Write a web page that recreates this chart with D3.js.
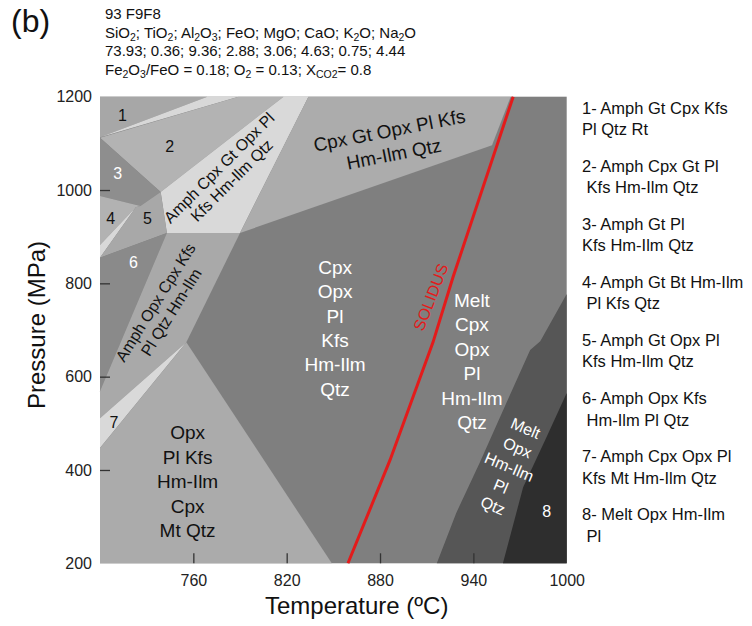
<!DOCTYPE html>
<meta charset="utf-8">
<head>
  <style>
    body {
      margin: 0;
      background: #fff;
    }
    svg {
      font-family: "Liberation Sans", Arial, sans-serif;
    }
    .axis text {
      font-size: 16px;
      fill: #222;
    }
    .axis line {
      stroke: #333;
      stroke-width: 1.3px;
    }
    .legend text {
      font-size: 16.5px;
      fill: #111;
      white-space: pre;
    }
  </style>
</head>
<body>
  <script src="https://d3js.org/d3.v7.min.js"></script>
  <script>
    // axis values
    const xLabelVals = [760, 820, 880, 940, 1000];
    const xTickVals = [760, 820, 880, 940];
    const yLabelVals = [200, 400, 600, 800, 1000, 1200];
    const yTickVals = [400, 600, 800, 1000];

    // phase field outlines, [T (ºC), P (MPa)]
    const field1 = [[700, 1200], [769, 1200], [700, 1113]];
    const sliver12 = [[700, 1113], [769, 1200], [789, 1200]];
    const field2 = [[700, 1112], [789, 1200], [818, 1200], [739, 996]];
    const fieldAmphCpxGt = [[818, 1200], [834, 1200], [790, 908], [743, 908], [739, 996]];
    const fieldCpxGt = [[834, 1200], [964, 1200], [952, 1096], [790, 908]];
    const field3 = [[700, 1112], [739, 996], [726, 966], [700, 987]];
    const field4 = [[700, 987], [726, 966], [723, 963], [700, 882]];
    const sliver46 = [[723, 963], [700, 882], [700, 855]];
    const field5 = [[723, 963], [726, 966], [739, 996], [743, 908], [700, 855]];
    const field6 = [[700, 855], [743, 908], [700, 569]];
    const fieldAmphOpx = [[743, 908], [790, 908], [755.5, 674], [700, 511], [700, 569]];
    const field7 = [[755.5, 674], [700, 511], [700, 447]];
    const fieldOpxPl = [[755.5, 674], [700, 447], [700, 200], [849, 200]];
    const fieldMeltOpx = [[1000, 777], [983, 676], [976.5, 657], [963, 557], [944, 415], [929, 308], [916.5, 200], [1000, 200]];
    const field8 = [[1000, 565], [987, 470], [972, 363], [959, 200], [1000, 200]];

    // solidus curve
    const solidus = [[965.6, 1200], [926.9, 813], [914.1, 674], [886.4, 421], [859.4, 200]];

    // field labels
    const labelCpxGt = ["Cpx Gt Opx Pl Kfs", "Hm-Ilm Qtz"];
    const labelAmphCpxGt = ["Amph Cpx Gt Opx Pl", "Kfs Hm-Ilm Qtz"];
    const labelAmphOpx = ["Amph Opx Cpx Kfs", "Pl Qtz Hm-Ilm"];
    const labelSubsolidus = ["Cpx", "Opx", "Pl", "Kfs", "Hm-Ilm", "Qtz"];
    const labelMeltCpx = ["Melt", "Cpx", "Opx", "Pl", "Hm-Ilm", "Qtz"];
    const labelMeltOpx = ["Melt", "Opx", "Hm-Ilm", "Pl", "Qtz"];
    const labelOpxPl = ["Opx", "Pl Kfs", "Hm-Ilm", "Cpx", "Mt Qtz"];

    const headerLines = [
      "93 F9F8",
      "SiO_{2}; TiO_{2}; Al_{2}O_{3}; FeO; MgO; CaO; K_{2}O; Na_{2}O",
      "73.93; 0.36; 9.36; 2.88; 3.06; 4.63; 0.75; 4.44",
      "Fe_{2}O_{3}/FeO = 0.18; O_{2} = 0.13; X_{CO2}= 0.8"
    ];

    const legendItems = [
      ["1- Amph Gt Cpx Kfs", "Pl Qtz Rt"],
      ["2- Amph Cpx Gt Pl", " Kfs Hm-Ilm Qtz"],
      ["3- Amph Gt Pl", "Kfs Hm-Ilm Qtz"],
      ["4- Amph Gt Bt Hm-Ilm", " Pl Kfs Qtz"],
      ["5- Amph Gt Opx Pl", "Kfs Hm-Ilm Qtz"],
      ["6- Amph Opx Kfs", " Hm-Ilm Pl Qtz"],
      ["7- Amph Cpx Opx Pl", "Kfs Mt Hm-Ilm Qtz"],
      ["8- Melt Opx Hm-Ilm", " Pl"]
    ];

    const width = 752, height = 626;
    const plot = {left: 100, right: 566.7, top: 96.7, bottom: 563.3};

    const x = d3.scaleLinear().domain([700, 1000]).range([plot.left, plot.right]);
    const y = d3.scaleLinear().domain([200, 1200]).range([plot.bottom, plot.top]);

    const svg = d3.select("body").append("svg")
      .attr("width", width)
      .attr("height", height);

    const line = d3.line().x(d => x(d[0])).y(d => y(d[1]));

    svg.append("rect")
      .attr("x", plot.left)
      .attr("y", plot.top)
      .attr("width", plot.right - plot.left)
      .attr("height", plot.bottom - plot.top)
      .attr("fill", "#7f7f7f");

    const fields = [
      [field1, "#a7a7a7"],
      [sliver12, "#d8d8d8"],
      [field2, "#b3b3b3"],
      [fieldAmphCpxGt, "#d9d9d9"],
      [fieldCpxGt, "#acacac"],
      [field3, "#8e8e8e"],
      [field4, "#b2b2b2"],
      [sliver46, "#d8d8d8"],
      [field5, "#a8a8a8"],
      [field6, "#8a8a8a"],
      [fieldAmphOpx, "#a9a9a9"],
      [field7, "#d9d9d9"],
      [fieldOpxPl, "#ababab"],
      [fieldMeltOpx, "#565656"],
      [field8, "#2e2e2e"]
    ];

    svg.append("g").selectAll("path")
      .data(fields)
      .join("path")
      .attr("d", d => line(d[0]) + "Z")
      .attr("fill", d => d[1]);

    svg.append("path")
      .attr("d", line(solidus))
      .attr("fill", "none")
      .attr("stroke", "#e31b1b")
      .attr("stroke-width", 3);

    // axes
    const xAxis = svg.append("g")
      .attr("class", "axis")
      .attr("transform", `translate(0,${plot.bottom})`)
      .call(d3.axisBottom(x).tickValues(xLabelVals).tickFormat(d3.format("d"))
        .tickSizeInner(-10).tickSizeOuter(0).tickPadding(11));
    const yAxis = svg.append("g")
      .attr("class", "axis")
      .attr("transform", `translate(${plot.left},0)`)
      .call(d3.axisLeft(y).tickValues(yLabelVals).tickFormat(d3.format("d"))
        .tickSizeInner(-10).tickSizeOuter(0).tickPadding(8));
    [xAxis, yAxis].forEach(a => {
      a.select(".domain").remove();
      a.attr("font-family", null).attr("font-size", null);
    });
    xAxis.selectAll(".tick").filter(d => !xTickVals.includes(d)).select("line").remove();
    yAxis.selectAll(".tick").filter(d => !yTickVals.includes(d)).select("line").remove();

    svg.append("text")
      .attr("x", 356.7)
      .attr("y", 614)
      .attr("text-anchor", "middle")
      .style("font-size", "24px")
      .attr("fill", "#111")
      .text("Temperature (ºC)");

    svg.append("text")
      .attr("transform", "translate(45,325) rotate(-90)")
      .attr("text-anchor", "middle")
      .style("font-size", "24px")
      .attr("fill", "#111")
      .text("Pressure (MPa)");

    // field labels, centred on a T-P point
    function blockLabel(lines, t, p, fs, lh, angle, fill) {
      const txt = svg.append("text")
        .attr("transform", `translate(${x(t)},${y(p)}) rotate(${angle})`)
        .attr("text-anchor", "middle")
        .style("font-size", fs + "px")
        .attr("fill", fill);
      lines.forEach((s, i) => {
        txt.append("tspan")
          .attr("x", 0)
          .attr("y", (i - (lines.length - 1) / 2) * lh + 0.36 * fs)
          .text(s);
      });
    }

    blockLabel(labelCpxGt, 887.4, 1102.8, 19, 24, -11, "#111");
    blockLabel(labelAmphCpxGt, 780.5, 1034.5, 16, 18, -45, "#111");
    blockLabel(labelAmphOpx, 740.6, 749, 16, 18.5, -58, "#111");
    blockLabel(labelSubsolidus, 851.1, 704.2, 19, 24.4, 0, "#fff");
    blockLabel(labelMeltCpx, 939.1, 633, 19, 24.5, 0, "#fff");
    blockLabel(labelMeltOpx, 963.1, 406.8, 16, 21, 23, "#fff");
    blockLabel(labelOpxPl, 756.3, 375.7, 19, 24.4, 0, "#111");
    blockLabel(["SOLIDUS"], 912.5, 770.5, 16, 0, -69, "#e31b1b");

    blockLabel(["1"], 714.5, 1160.7, 16, 0, 0, "#111");
    blockLabel(["2"], 744.8, 1094.9, 16, 0, 0, "#111");
    blockLabel(["3"], 711.3, 1036.4, 16, 0, 0, "#fff");
    blockLabel(["4"], 706.8, 940, 16, 0, 0, "#111");
    blockLabel(["5"], 730.5, 940, 16, 0, 0, "#111");
    blockLabel(["6"], 721.5, 845.7, 16, 0, 0, "#fff");
    blockLabel(["7"], 709, 501.7, 16, 0, 0, "#111");
    blockLabel(["8"], 987.2, 310.6, 16, 0, 0, "#fff");

    // header
    svg.append("text")
      .attr("x", 11)
      .attr("y", 32)
      .style("font-size", "32px")
      .attr("fill", "#111")
      .text("(b)");

    headerLines.forEach((s, i) => {
      const txt = svg.append("text")
        .attr("x", 105)
        .attr("y", 19 + i * 18.5)
        .style("font-size", "15px")
        .attr("fill", "#111");
      const parts = s.split(/_\{([^}]*)\}/);
      parts.forEach((part, j) => {
        if (!part) return;
        const sub = j % 2 === 1;
        txt.append("tspan")
          .attr("dy", sub ? 3 : (j > 0 ? -3 : 0))
          .style("font-size", sub ? "10.5px" : null)
          .text(part);
      });
    });

    // legend
    const legend = svg.append("g").attr("class", "legend");
    legendItems.forEach((item, i) => {
      item.forEach((s, k) => {
        legend.append("text")
          .attr("x", 582)
          .attr("y", 113.5 + i * 58.1 + k * 21.5)
          .text(s);
      });
    });
  </script>
</body>
